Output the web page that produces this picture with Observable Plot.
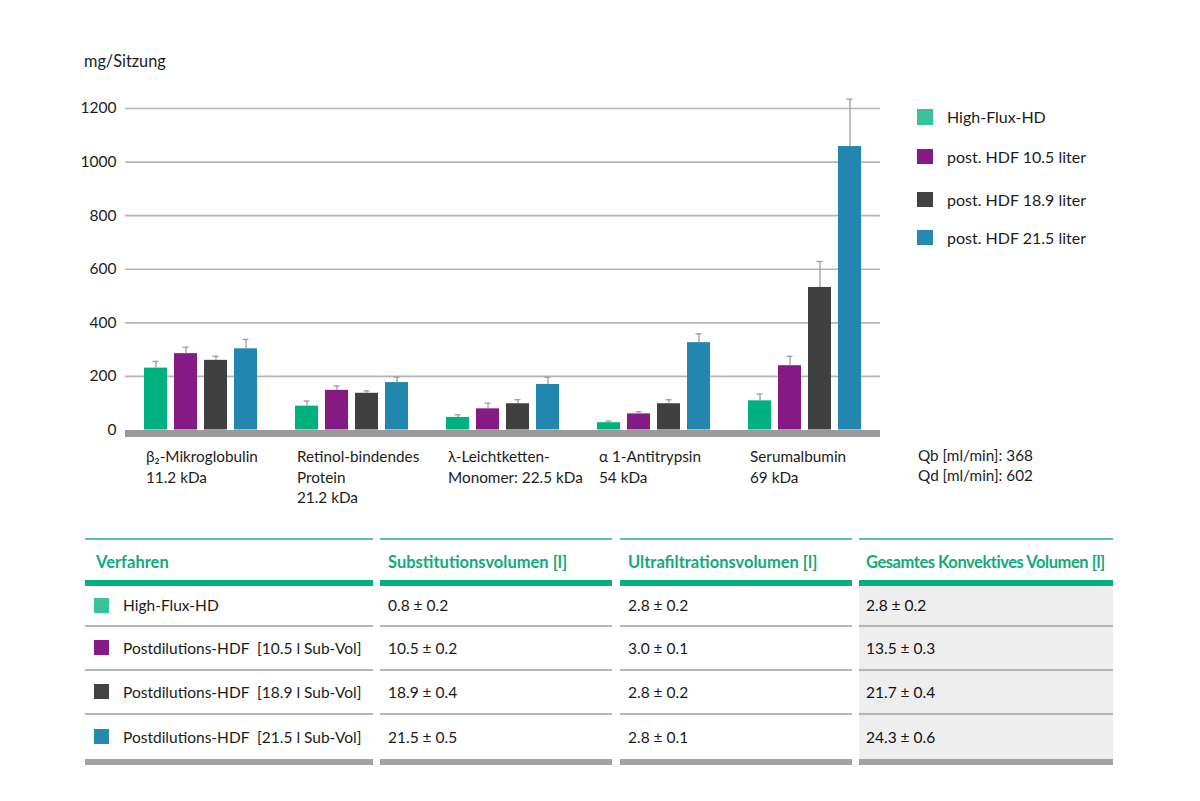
<!DOCTYPE html>
<html>
<head>
<meta charset="utf-8">
<script src="https://cdn.jsdelivr.net/npm/d3@7"></script>
<script src="https://cdn.jsdelivr.net/npm/@observablehq/plot@0.6"></script>
<style>
  html, body { margin: 0; padding: 0; background: #fff; }
  body { font-family: "Lato", sans-serif; color: #1c1c1c; }
  #wrap { position: relative; width: 1200px; height: 801px; overflow: hidden; }
  #chart { position: absolute; left: 0; top: 0; }
  .abs { position: absolute; white-space: pre; line-height: 1; }
  .legend-sq { position: absolute; width: 15.5px; height: 15.5px; }
  .col { position: absolute; top: 538px; }
  .col .topline { height: 1.6px; background: #4fc7a1; }
  .col .head { height: 40.4px; position: relative; color: #12a97b; font-weight: bold; font-size: 16.5px; }
  .col .head span { position: absolute; top: 12px; white-space: pre; }
  .col .bar-teal { height: 6px; background: #04b07f; }
  .col .row { display: flex; align-items: center; border-bottom: 2px solid #b4b4b4; font-size: 15.5px; color: #1a1a1a; white-space: pre; box-sizing: border-box; }
  .col .row.last { border-bottom: none; }
  .col .bar-gray { height: 6px; background: #a2a2a2; }
  .col.shade .row { background: #eeeeee; }
  .sq { width: 15px; height: 15px; margin-right: 14px; flex: none; }
</style>
</head>
<body>
<div id="wrap">
  <div id="chart"></div>
</div>
<script>
// ---- chart data ----
const categories = [
  "β₂-Mikroglobulin\n11.2 kDa",
  "Retinol-bindendes\nProtein\n21.2 kDa",
  "λ-Leichtketten-\nMonomer: 22.5 kDa",
  "α 1-Antitrypsin\n54 kDa",
  "Serumalbumin\n69 kDa"
];
const series = ["High-Flux-HD", "post. HDF 10.5 liter", "post. HDF 18.9 liter", "post. HDF 21.5 liter"];
const barColors = ["#00b07f", "#861a85", "#404040", "#2287b0"];
const legendColors = ["#3ac39b", "#861a86", "#424242", "#2589b1"];

const highFlux  = [231, 89, 47, 27, 109];
const hdf105    = [285, 148, 79, 60, 240];
const hdf189    = [260, 137, 98, 98, 532];
const hdf215    = [303, 177, 170, 326, 1058];

const highFluxUpper = [256, 108, 57, 33, 134];
const hdf105Upper   = [309, 164, 100, 68, 275];
const hdf189Upper   = [275, 146, 113, 113, 629];
const hdf215Upper   = [338, 197, 197, 359, 1235];

const yTicks = [0, 200, 400, 600, 800, 1000, 1200];
const yLabel = "mg/Sitzung";
const flowNotes = ["Qb [ml/min]: 368", "Qd [ml/min]: 602"];

// ---- table data ----
const tableHeaders = ["Verfahren", "Substitutionsvolumen [l]", "Ultrafiltrationsvolumen [l]", "Gesamtes Konvektives Volumen [l]"];
const verfahren = ["High-Flux-HD", "Postdilutions-HDF  [10.5 l Sub-Vol]", "Postdilutions-HDF  [18.9 l Sub-Vol]", "Postdilutions-HDF  [21.5 l Sub-Vol]"];
const substitution = ["0.8 ± 0.2", "10.5 ± 0.2", "18.9 ± 0.4", "21.5 ± 0.5"];
const ultrafiltration = ["2.8 ± 0.2", "3.0 ± 0.1", "2.8 ± 0.2", "2.8 ± 0.1"];
const gesamt = ["2.8 ± 0.2", "13.5 ± 0.3", "21.7 ± 0.4", "24.3 ± 0.6"];

// ---- build tidy table ----
const valueSets = [highFlux, hdf105, hdf189, hdf215];
const upperSets = [highFluxUpper, hdf105Upper, hdf189Upper, hdf215Upper];
const data = [];
categories.forEach((c, i) => {
  series.forEach((s, j) => {
    data.push({cat: c, series: s, value: valueSets[j][i], upper: upperSets[j][i]});
  });
});

const chart = Plot.plot({
  width: 900,
  height: 520,
  marginLeft: 125,
  marginRight: 20,
  marginTop: 108,
  marginBottom: 90.5,
  style: {fontFamily: "Lato, sans-serif", fontSize: "15px", color: "#1c1c1c", background: "transparent"},
  fx: {domain: categories, padding: 0, label: null},
  x: {domain: series, paddingInner: 0.25, paddingOuter: 0.63, axis: null},
  y: {domain: [0, 1200], label: null},
  color: {domain: series, range: barColors},
  marks: [
    Plot.ruleY(yTicks.filter(v => v > 0), {stroke: "#b5b5b5", strokeWidth: 1.6}),
    Plot.barY(data, {fx: "cat", x: "series", y: "value", fill: "series"}),
    Plot.ruleX(data, {fx: "cat", x: "series", y1: "value", y2: "upper", stroke: "#9d9d9d", strokeWidth: 1.3}),
    Plot.tickY(data, {fx: "cat", x: "series", y: "upper", stroke: "#9d9d9d", strokeWidth: 1.3, insetLeft: 8.5, insetRight: 8.5}),
    Plot.ruleY([0], {stroke: "#9a9a9a", strokeWidth: 7, dy: 3.5}),
    Plot.axisY({ticks: yTicks, tickSize: 0, tickPadding: 9, fontSize: 15.5, tickFormat: d => String(d)}),
    Plot.axisFx({anchor: "bottom", tickSize: 0, tickPadding: 17, textAnchor: "start", dx: -55, lineHeight: 1.36, fontSize: 15.3, label: null})
  ]
});
document.getElementById("chart").appendChild(chart);

const wrap = document.getElementById("wrap");
function addText(txt, left, top, size, extra) {
  const d = document.createElement("div");
  d.className = "abs";
  d.textContent = txt;
  d.style.left = left + "px";
  d.style.top = top + "px";
  d.style.fontSize = size + "px";
  if (extra) Object.assign(d.style, extra);
  wrap.appendChild(d);
  return d;
}
// y label
addText(yLabel, 84, 53, 16.3);
// flow notes
flowNotes.forEach((t, i) => addText(t, 918, 448 + i * 20, 15.3));
// legend
const legendTops = [109, 148.5, 191.5, 229.5];
series.forEach((s, i) => {
  const sq = document.createElement("div");
  sq.className = "legend-sq";
  sq.style.left = "917px";
  sq.style.top = legendTops[i] + "px";
  sq.style.background = legendColors[i];
  wrap.appendChild(sq);
  addText(s, 947, legendTops[i] + 0, 16);
});

// table
const cols = [
  {left: 85, width: 288, pad: 9, headPad: 11},
  {left: 380, width: 232, pad: 8, headPad: 8},
  {left: 620, width: 232, pad: 8, headPad: 8},
  {left: 859, width: 254, pad: 7, headPad: 7, shade: true, headSpacing: "-0.45px"}
];
const colValues = [verfahren, substitution, ultrafiltration, gesamt];
const rowHeights = [41, 44, 44, 44];
cols.forEach((c, ci) => {
  const col = document.createElement("div");
  col.className = "col" + (c.shade ? " shade" : "");
  col.style.left = c.left + "px";
  col.style.width = c.width + "px";
  col.innerHTML = `<div class="topline"></div><div class="head"><span style="left:${c.headPad}px;letter-spacing:${c.headSpacing || "0px"}">${tableHeaders[ci]}</span></div><div class="bar-teal"></div>`;
  colValues[ci].forEach((v, ri) => {
    const r = document.createElement("div");
    r.className = "row" + (ri === 3 ? " last" : "");
    r.style.height = rowHeights[ri] + "px";
    r.style.paddingLeft = c.pad + "px";
    if (ci === 0) {
      const sq = document.createElement("div");
      sq.className = "sq";
      sq.style.background = legendColors[ri];
      r.appendChild(sq);
    }
    const sp = document.createElement("span");
    sp.textContent = v;
    if (c.shade) sp.style.color = "#111";
    r.appendChild(sp);
    col.appendChild(r);
  });
  const gb = document.createElement("div");
  gb.className = "bar-gray";
  col.appendChild(gb);
  wrap.appendChild(col);
});
</script>
</body>
</html>
